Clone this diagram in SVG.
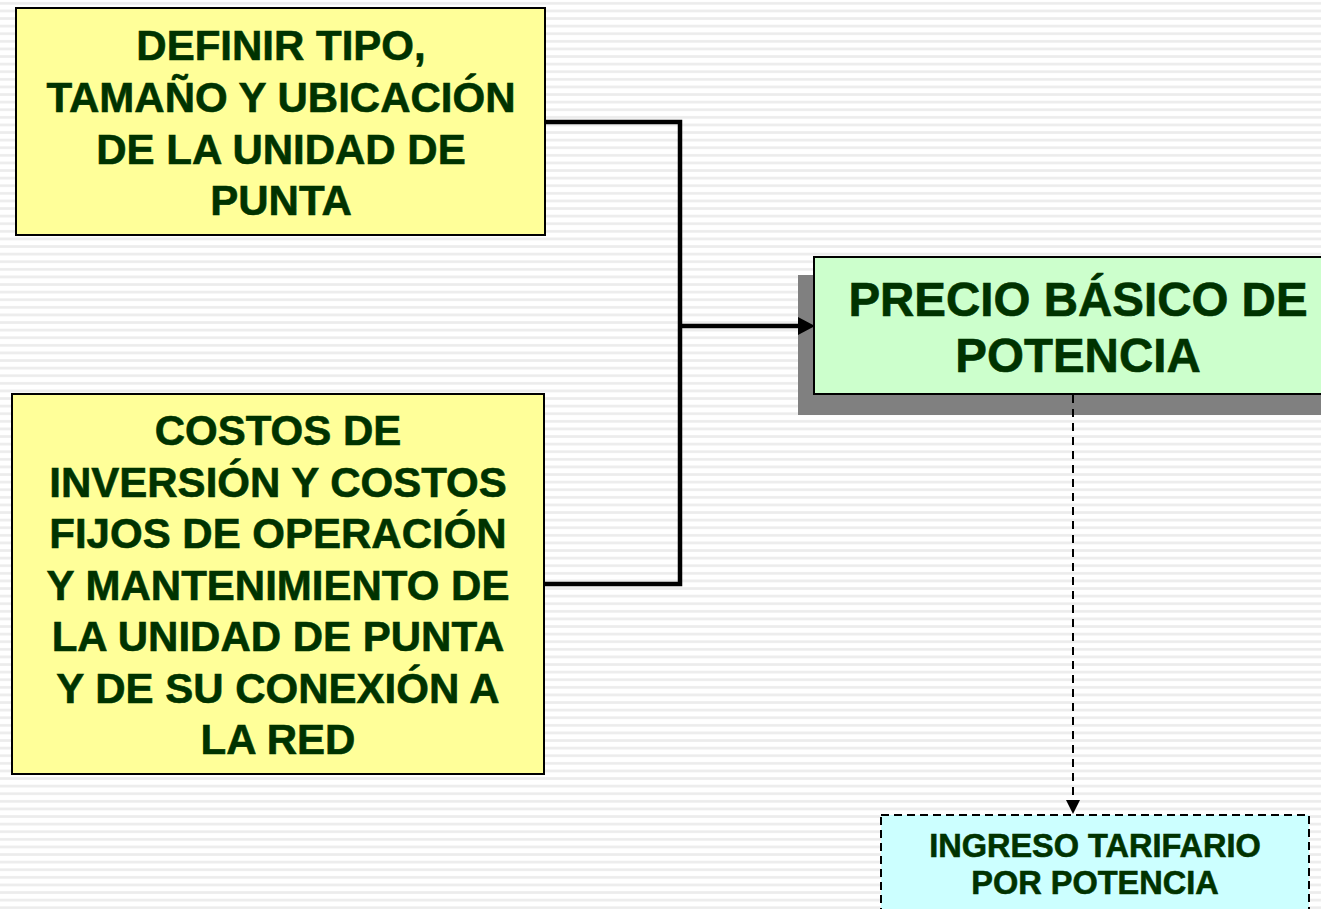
<svg xmlns="http://www.w3.org/2000/svg" width="1321" height="909" viewBox="0 0 1321 909">
<style>
.t{font-family:"Liberation Sans",Arial,sans-serif;font-weight:bold;fill:#003300;stroke:#003300;stroke-width:0.6;text-anchor:middle}
.box{stroke:#000;stroke-width:2}
.conn{fill:none;stroke:#000;stroke-width:4.5}
</style>
<defs>
<pattern id="bg" x="0" y="0" width="20" height="7.6" patternUnits="userSpaceOnUse">
<rect x="0" y="0" width="20" height="7.6" fill="#ffffff"/>
<rect x="0" y="2" width="20" height="2.6" fill="#ececec"/>
</pattern>
<marker id="ah" markerWidth="17" markerHeight="18" refX="17" refY="9" orient="auto" markerUnits="userSpaceOnUse">
<path d="M0,0 L17,9 L0,18 Z" fill="#000"/>
</marker>
<marker id="ah2" markerWidth="14" markerHeight="15" refX="14" refY="7.5" orient="auto" markerUnits="userSpaceOnUse">
<path d="M0,0 L14,7.5 L0,15 Z" fill="#000"/>
</marker>
</defs>
<rect x="0" y="0" width="1321" height="909" fill="url(#bg)"/>

<g id="node-definir">
<rect class="box" x="16" y="8" width="529" height="227" fill="#FFFF99"/>
<text class="t" font-size="42" x="281"><tspan x="281" y="60">DEFINIR TIPO,</tspan><tspan x="281" y="112">TAMAÑO Y UBICACIÓN</tspan><tspan x="281" y="164">DE LA UNIDAD DE</tspan><tspan x="281" y="215">PUNTA</tspan></text>
</g>

<g id="node-costos">
<rect class="box" x="12" y="394" width="532" height="380" fill="#FFFF99"/>
<text class="t" font-size="42" x="278"><tspan x="278" y="445">COSTOS DE</tspan><tspan x="278" y="497">INVERSIÓN Y COSTOS</tspan><tspan x="278" y="548">FIJOS DE OPERACIÓN</tspan><tspan x="278" y="600">Y MANTENIMIENTO DE</tspan><tspan x="278" y="651">LA UNIDAD DE PUNTA</tspan><tspan x="278" y="703">Y DE SU CONEXIÓN A</tspan><tspan x="278" y="754">LA RED</tspan></text>
</g>

<g id="node-precio">
<rect x="798" y="275" width="530" height="140" fill="#808080"/>
<rect class="box" x="814" y="257" width="512" height="137" fill="#CCFFCC"/>
<text class="t" font-size="47.5" x="1078"><tspan x="1078" y="316">PRECIO BÁSICO DE</tspan><tspan x="1078" y="372">POTENCIA</tspan></text>
</g>

<g id="node-ingreso">
<rect x="881" y="815" width="428" height="110" fill="#CCFFFF" stroke="#000" stroke-width="2" stroke-dasharray="8,5"/>
<text class="t" font-size="32.5" x="1095"><tspan x="1095" y="857">INGRESO TARIFARIO</tspan><tspan x="1095" y="894">POR POTENCIA</tspan></text>
</g>

<g id="connectors">
<path class="conn" d="M545,122 H680 V584 H544"/>
<path class="conn" d="M680,326 H800" />
<path d="M798,317 L815,326 L798,335 Z" fill="#000"/>
<path d="M1073,395 V801" fill="none" stroke="#000" stroke-width="2" stroke-dasharray="8,6"/>
<path d="M1066,800 L1080,800 L1073,814 Z" fill="#000"/>
</g>
</svg>
